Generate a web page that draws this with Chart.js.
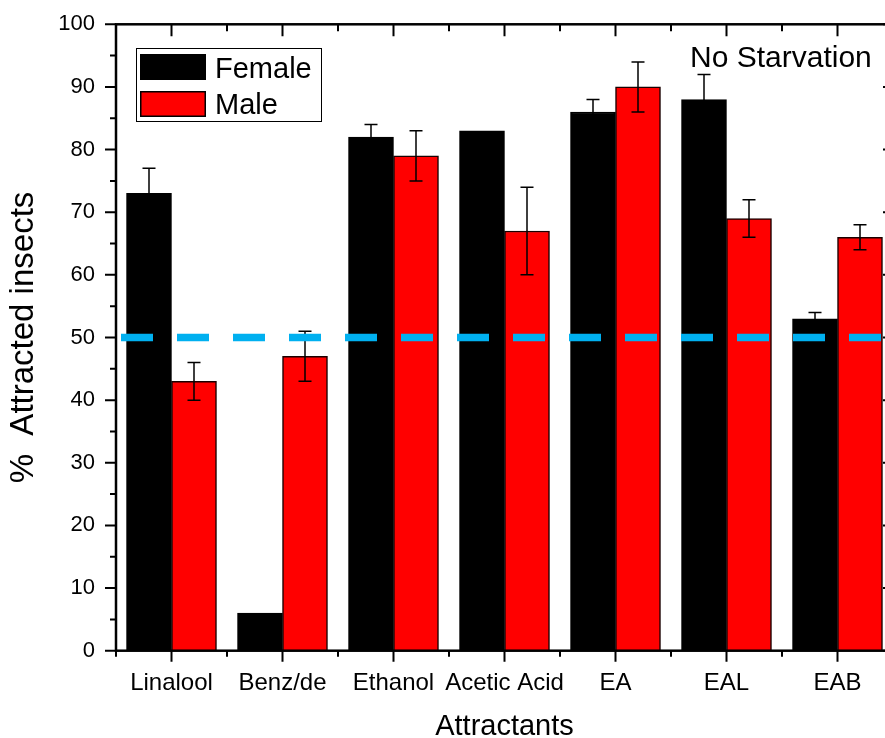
<!DOCTYPE html>
<html>
<head>
<meta charset="utf-8">
<script src="https://cdn.jsdelivr.net/npm/chart.js@4.4.1/dist/chart.umd.min.js"></script>
<style>
  html, body { margin: 0; padding: 0; overflow: hidden; background: #fff; }
  #wrap { width: 900px; height: 738px; }
</style>
</head>
<body>
<div id="wrap"><canvas id="chart" width="900" height="738"></canvas></div>
<script>
// Attraction of insects to each compound, by sex (percent, mean ± error)
const categories = ['Linalool', 'Benz/de', 'Ethanol', 'Acetic Acid', 'EA', 'EAL', 'EAB'];
const femaleValues = [73, 6, 82, 83, 86, 88, 53];
const femaleErrors = [4, 0, 2, 0, 2, 4, 1];
const maleValues = [43, 47, 79, 67, 90, 69, 66];
const maleErrors = [3, 4, 4, 7, 4, 3, 2];
const chanceLevel = 50;
const yTicks = [0, 10, 20, 30, 40, 50, 60, 70, 80, 90, 100];
const noteText = 'No Starvation';

const FONT = "'Liberation Sans', Arial, Helvetica, sans-serif";
Chart.defaults.font.family = FONT;
Chart.defaults.color = '#000';

const errorSets = [femaleErrors, maleErrors];

// Error bars drawn right after each bar dataset (so the dashed reference line stays on top)
const errorBarPlugin = {
  id: 'errorBars',
  afterDatasetDraw(chart, args) {
    const errs = errorSets[args.index];
    if (!errs) return;
    const ctx = chart.ctx;
    const yScale = chart.scales.y;
    const ds = chart.data.datasets[args.index];
    ctx.save();
    ctx.strokeStyle = '#000';
    ctx.lineWidth = 1.5;
    args.meta.data.forEach((el, i) => {
      const e = errs[i];
      if (!e) return;
      const v = ds.data[i].y;
      const yt = yScale.getPixelForValue(v + e);
      const yb = yScale.getPixelForValue(v - e);
      const x = el.x;
      ctx.beginPath();
      ctx.moveTo(x, yt); ctx.lineTo(x, yb);
      ctx.moveTo(x - 6.5, yt); ctx.lineTo(x + 6.5, yt);
      ctx.moveTo(x - 6.5, yb); ctx.lineTo(x + 6.5, yb);
      ctx.stroke();
    });
    ctx.restore();
  }
};

// Box frame with major/minor ticks, legend box and the corner note
const framePlugin = {
  id: 'frame',
  afterDraw(chart) {
    const ctx = chart.ctx;
    const xs = chart.scales.x, ys = chart.scales.y;
    const L = xs.left, R = xs.right, T = ys.top, B = ys.bottom;
    ctx.save();
    ctx.strokeStyle = '#000';
    ctx.lineCap = 'butt';

    ctx.lineWidth = 2;
    ctx.beginPath();
    for (let v = 0; v <= 100; v += 5) {
      const y = ys.getPixelForValue(v);
      const major = v % 10 === 0;
      ctx.moveTo(L, y); ctx.lineTo(L - (major ? 11 : 6), y);
      ctx.moveTo(R, y); ctx.lineTo(R - (major ? 10 : 6), y);
    }
    for (let k = -1; k <= 13; k++) {
      const v = k / 2;
      const x = xs.getPixelForValue(v);
      const major = k % 2 === 0;
      ctx.moveTo(x, B); ctx.lineTo(x, B + (major ? 11 : 6));
      ctx.moveTo(x, T); ctx.lineTo(x, T + (major ? 12 : 7));
    }
    ctx.stroke();

    ctx.lineWidth = 2.5;
    ctx.strokeRect(L, T, R - L, B - T);

    // legend
    const dsets = chart.data.datasets.filter(d => d.type !== 'line');
    ctx.lineWidth = 1;
    ctx.strokeRect(136.5, 48.5, 185, 73);
    ctx.font = '29px ' + FONT;
    ctx.textBaseline = 'alphabetic';
    ctx.textAlign = 'left';
    dsets.forEach((d, i) => {
      const top = 54 + i * 37;
      ctx.fillStyle = d.backgroundColor;
      ctx.fillRect(140, top, 66, 26);
      ctx.lineWidth = 1.5;
      ctx.strokeStyle = '#000';
      ctx.strokeRect(140.75, top + 0.75, 64.5, 24.5);
      ctx.fillStyle = '#000';
      ctx.fillText(d.label, 215, 78 + i * 36);
    });

    ctx.font = '30px ' + FONT;
    ctx.fillText(noteText, 690, 66.5);
    ctx.restore();
  }
};

const toPoints = arr => arr.map((v, i) => ({ x: i, y: v }));

new Chart(document.getElementById('chart'), {
  type: 'bar',
  data: {
    datasets: [
      {
        label: 'Female',
        data: toPoints(femaleValues),
        backgroundColor: '#000000',
        borderColor: '#000000',
        borderWidth: 1.5,
        barThickness: 45,
        order: 1
      },
      {
        label: 'Male',
        data: toPoints(maleValues),
        backgroundColor: '#ff0000',
        borderColor: '#1a0000',
        borderWidth: 1.5,
        barThickness: 45,
        order: 2
      },
      {
        type: 'line',
        label: 'chance',
        data: [{ x: -0.5, y: chanceLevel }, { x: 6.5, y: chanceLevel }],
        borderColor: '#00b0f0',
        borderWidth: 7.5,
        borderDash: [32, 24],
        borderDashOffset: -5,
        borderCapStyle: 'butt',
        pointRadius: 0,
        fill: false,
        order: 0
      }
    ]
  },
  options: {
    responsive: false,
    animation: false,
    events: [],
    layout: { padding: { top: 24.3, right: 7, left: 0, bottom: 0 } },
    plugins: { legend: { display: false }, tooltip: { enabled: false } },
    scales: {
      x: {
        type: 'linear',
        min: -0.5,
        max: 6.5,
        offset: false,
        afterBuildTicks: s => { s.ticks = categories.map((_, i) => ({ value: i })); },
        ticks: {
          callback: v => categories[v],
          font: { size: 24 },
          color: '#000',
          padding: 18,
          maxRotation: 0,
          autoSkip: false
        },
        grid: { display: false, drawTicks: false, tickLength: 0 },
        border: { display: false },
        title: {
          display: true,
          text: 'Attractants',
          font: { size: 29 },
          color: '#000',
          padding: { top: 0, bottom: -6.4 }
        },
        afterFit: s => {
          s.height = 87.3;
          s.paddingLeft = 0; s.paddingRight = 0;
        }
      },
      y: {
        min: 0,
        max: 100,
        afterBuildTicks: s => { s.ticks = yTicks.map(v => ({ value: v })); },
        ticks: { font: { size: 22 }, color: '#000', padding: 21 },
        grid: { display: false, drawTicks: false, tickLength: 0 },
        border: { display: false },
        title: {
          display: true,
          text: '%  Attracted insects',
          font: { size: 33 },
          color: '#000',
          padding: { top: 4.3, bottom: 0 }
        },
        afterFit: s => {
          s.width = 116;
          s.paddingTop = 0; s.paddingBottom = 0;
        }
      }
    }
  },
  plugins: [errorBarPlugin, framePlugin]
});
</script>
</body>
</html>
